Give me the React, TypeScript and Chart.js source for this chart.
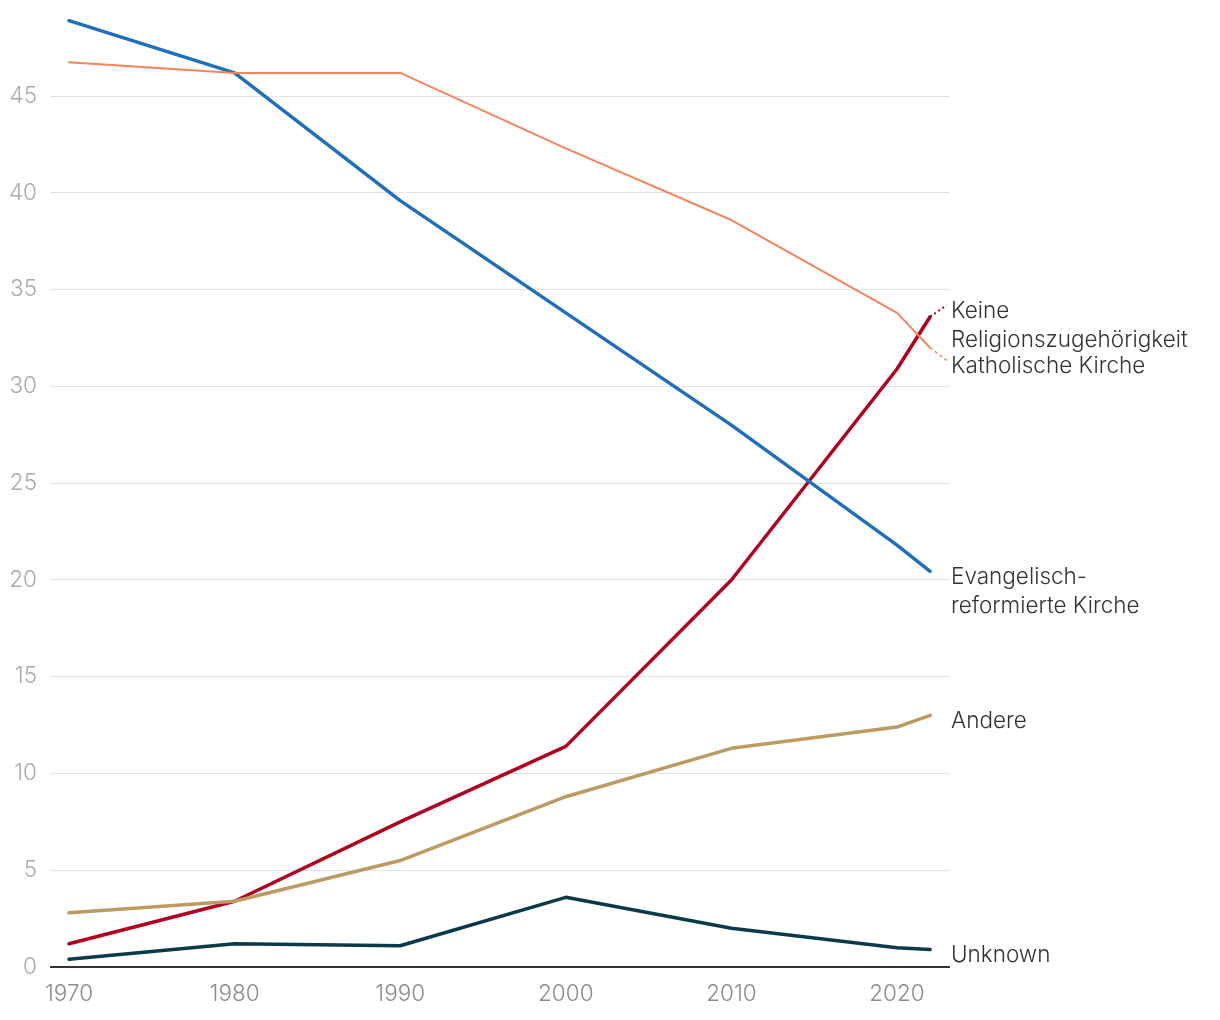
import React, { useEffect, useRef } from "react";
import { Chart, registerables } from "chart.js";

Chart.register(...registerables);

const years = [1970, 1980, 1990, 2000, 2010, 2020, 2022];
const projYears = [2022, 2023];

const evangelisch = [48.9, 46.2, 39.6, 33.8, 28.0, 21.8, 20.45];
const katholisch = [46.75, 46.2, 46.2, 42.3, 38.6, 33.8, 32.0];
const katholischProj = [32.0, 31.35];
const keine = [1.2, 3.4, 7.5, 11.4, 20.0, 30.9, 33.6];
const keineProj = [33.6, 34.2];
const andere = [2.8, 3.4, 5.5, 8.8, 11.3, 12.4, 13.0];
const unknown = [0.4, 1.2, 1.1, 3.6, 2.0, 1.0, 0.9];

const xTicks = [1970, 1980, 1990, 2000, 2010, 2020];
const yTicks = [0, 5, 10, 15, 20, 25, 30, 35, 40, 45];

const endLabels = [
  { lines: ["Keine", "Religionszugehörigkeit"], value: 34.2 },
  { lines: ["Katholische Kirche"], value: 31.35 },
  { lines: ["Evangelisch-", "reformierte Kirche"], value: 20.45 },
  { lines: ["Andere"], value: 13.0 },
  { lines: ["Unknown"], value: 0.9 },
];

const FONT = "Inter, Roboto, sans-serif";

const toPts = (xs: number[], ys: number[]) => xs.map((x, i) => ({ x, y: ys[i] }));

const endLabelPlugin = {
  id: "endLabels",
  afterDraw(chart: any) {
    const { ctx, chartArea, scales } = chart;
    ctx.save();
    ctx.font = `300 22.5px ${FONT}`;
    ctx.fillStyle = "#333333";
    ctx.textAlign = "left";
    ctx.textBaseline = "middle";
    endLabels.forEach((l) => {
      const y0 = scales.y.getPixelForValue(l.value) + 6;
      l.lines.forEach((line, i) => {
        ctx.fillText(line, chartArea.right + 1, y0 + i * 29);
      });
    });
    ctx.restore();
  },
};

export default function App() {
  const ref = useRef<HTMLCanvasElement>(null);
  useEffect(() => {
    if (!ref.current) return;
    const line = (data: any, color: string, width: number, dash?: number[]) => ({
      data,
      borderColor: color,
      backgroundColor: color,
      borderWidth: width,
      borderDash: dash || [],
      pointRadius: 0,
      pointHoverRadius: 0,
      borderCapStyle: dash ? "butt" : "round",
      borderJoinStyle: "round",
      tension: 0,
      fill: false,
      clip: false,
    });
    const chart = new Chart(ref.current, {
      type: "line",
      data: {
        datasets: [
          line(toPts(years, unknown), "#0a3a4a", 3.5),
          line(toPts(years, andere), "#bd9a62", 3.5),
          line(toPts(years, katholisch), "#f6845c", 2),
          line(toPts(projYears, katholischProj), "#f6845c", 1.5, [3, 3]),
          line(toPts(years, evangelisch), "#1f6fbd", 3.5),
          line(toPts(years, keine), "#b1001f", 3.5),
          line(toPts(projYears, keineProj), "#b1001f", 2, [2, 3]),
        ] as any,
      },
      options: {
        animation: false,
        responsive: false,
        maintainAspectRatio: false,
        events: [],
        layout: { padding: { top: 0, right: 270, left: 0, bottom: 0 } },
        plugins: { legend: { display: false }, tooltip: { enabled: false } },
        scales: {
          x: {
            type: "linear",
            min: 1968.853,
            max: 2023.2,
            afterBuildTicks: (axis: any) => {
              axis.ticks = xTicks.map((v) => ({ value: v }));
            },
            afterFit: (axis: any) => {
              axis.height = 53;
            },
            grid: { display: false, drawTicks: false },
            border: { display: false },
            ticks: {
              color: "#8c8c8c",
              font: { family: FONT, size: 22.5, weight: 300 as any },
              padding: 14,
              maxRotation: 0,
              autoSkip: false,
              callback: (v: any) => String(v),
            },
          },
          y: {
            type: "linear",
            min: 0,
            max: 48.6,
            afterBuildTicks: (axis: any) => {
              axis.ticks = yTicks.map((v) => ({ value: v }));
            },
            afterFit: (axis: any) => {
              axis.width = 50;
            },
            grid: {
              drawTicks: false,
              color: (c: any) => (c.tick && c.tick.value === 0 ? "#333333" : "#e2e2e2"),
              lineWidth: (c: any) => (c.tick && c.tick.value === 0 ? 2 : 1),
            },
            border: { display: false },
            ticks: {
              color: "#ababab",
              font: { family: FONT, size: 22.5, weight: 300 as any },
              padding: 13,
              callback: (v: any) => String(v),
            },
          },
        },
      },
      plugins: [endLabelPlugin],
    });
    return () => chart.destroy();
  }, []);
  return (
    <div style={{ position: "absolute", left: 0, top: 0, width: 1220, height: 1020, background: "#fff" }}>
      <canvas ref={ref} width={1220} height={1020} style={{ width: 1220, height: 1020, display: "block" }} />
    </div>
  );
}
